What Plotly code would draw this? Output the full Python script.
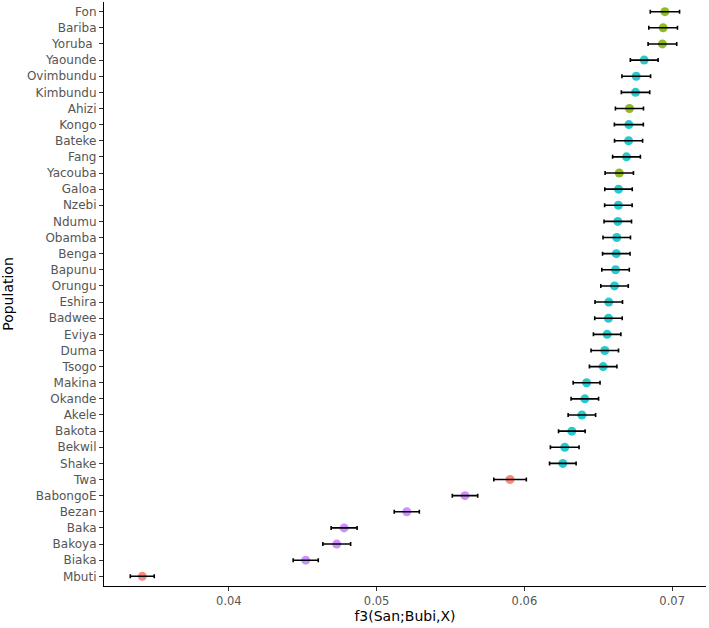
import plotly.graph_objects as go

populations = ["Fon", "Bariba", "Yoruba ", "Yaounde", "Ovimbundu", "Kimbundu", "Ahizi",
               "Kongo", "Bateke", "Fang", "Yacouba", "Galoa", "Nzebi", "Ndumu", "Obamba",
               "Benga", "Bapunu", "Orungu", "Eshira", "Badwee", "Eviya", "Duma", "Tsogo",
               "Makina", "Okande", "Akele", "Bakota", "Bekwil", "Shake", "Twa", "BabongoE",
               "Bezan", "Baka", "Bakoya", "Biaka", "Mbuti"]
f3 = [0.06951, 0.06939, 0.06934, 0.06811, 0.06757, 0.06752, 0.06711,
      0.06707, 0.06705, 0.06691, 0.06642, 0.06637, 0.06636, 0.06632, 0.06625,
      0.06622, 0.06617, 0.06610, 0.06571, 0.06569, 0.06560, 0.06544, 0.06533,
      0.06421, 0.06409, 0.06389, 0.06321, 0.06273, 0.06260, 0.05903, 0.05598,
      0.05204, 0.04780, 0.04730, 0.04520, 0.03414]
se = [0.00099, 0.00097, 0.00097, 0.00094, 0.00097, 0.00096, 0.00095,
      0.00098, 0.00095, 0.00094, 0.00096, 0.00093, 0.00093, 0.00093, 0.00093,
      0.00093, 0.00093, 0.00093, 0.00093, 0.00093, 0.00093, 0.00093, 0.00093,
      0.00091, 0.00093, 0.00093, 0.00090, 0.00097, 0.00090, 0.00110, 0.00086,
      0.00085, 0.00088, 0.00094, 0.00085, 0.00081]
group = ["West", "West", "West", "Bantu", "Bantu", "Bantu", "West",
         "Bantu", "Bantu", "Bantu", "West", "Bantu", "Bantu", "Bantu", "Bantu",
         "Bantu", "Bantu", "Bantu", "Bantu", "Bantu", "Bantu", "Bantu", "Bantu",
         "Bantu", "Bantu", "Bantu", "Bantu", "Bantu", "Bantu", "Hunter", "Western",
         "Western", "Western", "Western", "Western", "Hunter"]
group_colors = {"Hunter": "#F8766D", "West": "#7CAE00", "Bantu": "#00BFC4", "Western": "#C77CFF"}

labels = [p.replace(" ", "\u00a0") for p in populations]

fig = go.Figure()
for g, col in group_colors.items():
    idx = [i for i, gg in enumerate(group) if gg == g]
    fig.add_trace(go.Scatter(
        x=[f3[i] for i in idx], y=[labels[i] for i in idx], mode="markers",
        marker=dict(color=col, size=9, opacity=0.85, line=dict(width=0)),
        showlegend=False, hoverinfo="skip"))

fig.add_trace(go.Scatter(
    x=f3, y=labels, mode="markers", marker=dict(size=1, opacity=0),
    error_x=dict(type="data", array=se, symmetric=True, color="black", thickness=1.6, width=2),
    showlegend=False, hoverinfo="skip"))

fig.update_layout(
    width=709, height=628,
    margin=dict(l=104, r=3, t=2, b=42),
    plot_bgcolor="white", paper_bgcolor="white",
    font=dict(family="DejaVu Sans, Liberation Sans, sans-serif"),
)
fig.update_xaxes(
    automargin=False,
    range=[0.03155, 0.07229], tickvals=[0.04, 0.05, 0.06, 0.07],
    ticktext=["0.04", "0.05", "0.06", "0.07"],
    showgrid=False, zeroline=False, showline=True, linecolor="black", linewidth=1.2,
    ticks="outside", ticklen=4, tickcolor="#333333", tickwidth=1.1,
    tickfont=dict(size=11.5, color="#555555"),
    title=dict(text="f3(San;Bubi,X)", font=dict(size=14, color="black"), standoff=4),
)
fig.update_yaxes(
    automargin=False,
    type="category", categoryorder="array", categoryarray=labels[::-1],
    range=[-0.6, len(labels) - 0.4],
    showgrid=False, zeroline=False, showline=True, linecolor="black", linewidth=1.2,
    ticks="outside", ticklen=4, tickcolor="#333333", tickwidth=1.1,
    tickfont=dict(size=12, color="#555555"),
    title=dict(text="Population", font=dict(size=14, color="black"), standoff=12),
)

fig.write_html("out.html", config={"displayModeBar": False},
               post_script="document.body.style.margin='0';")
